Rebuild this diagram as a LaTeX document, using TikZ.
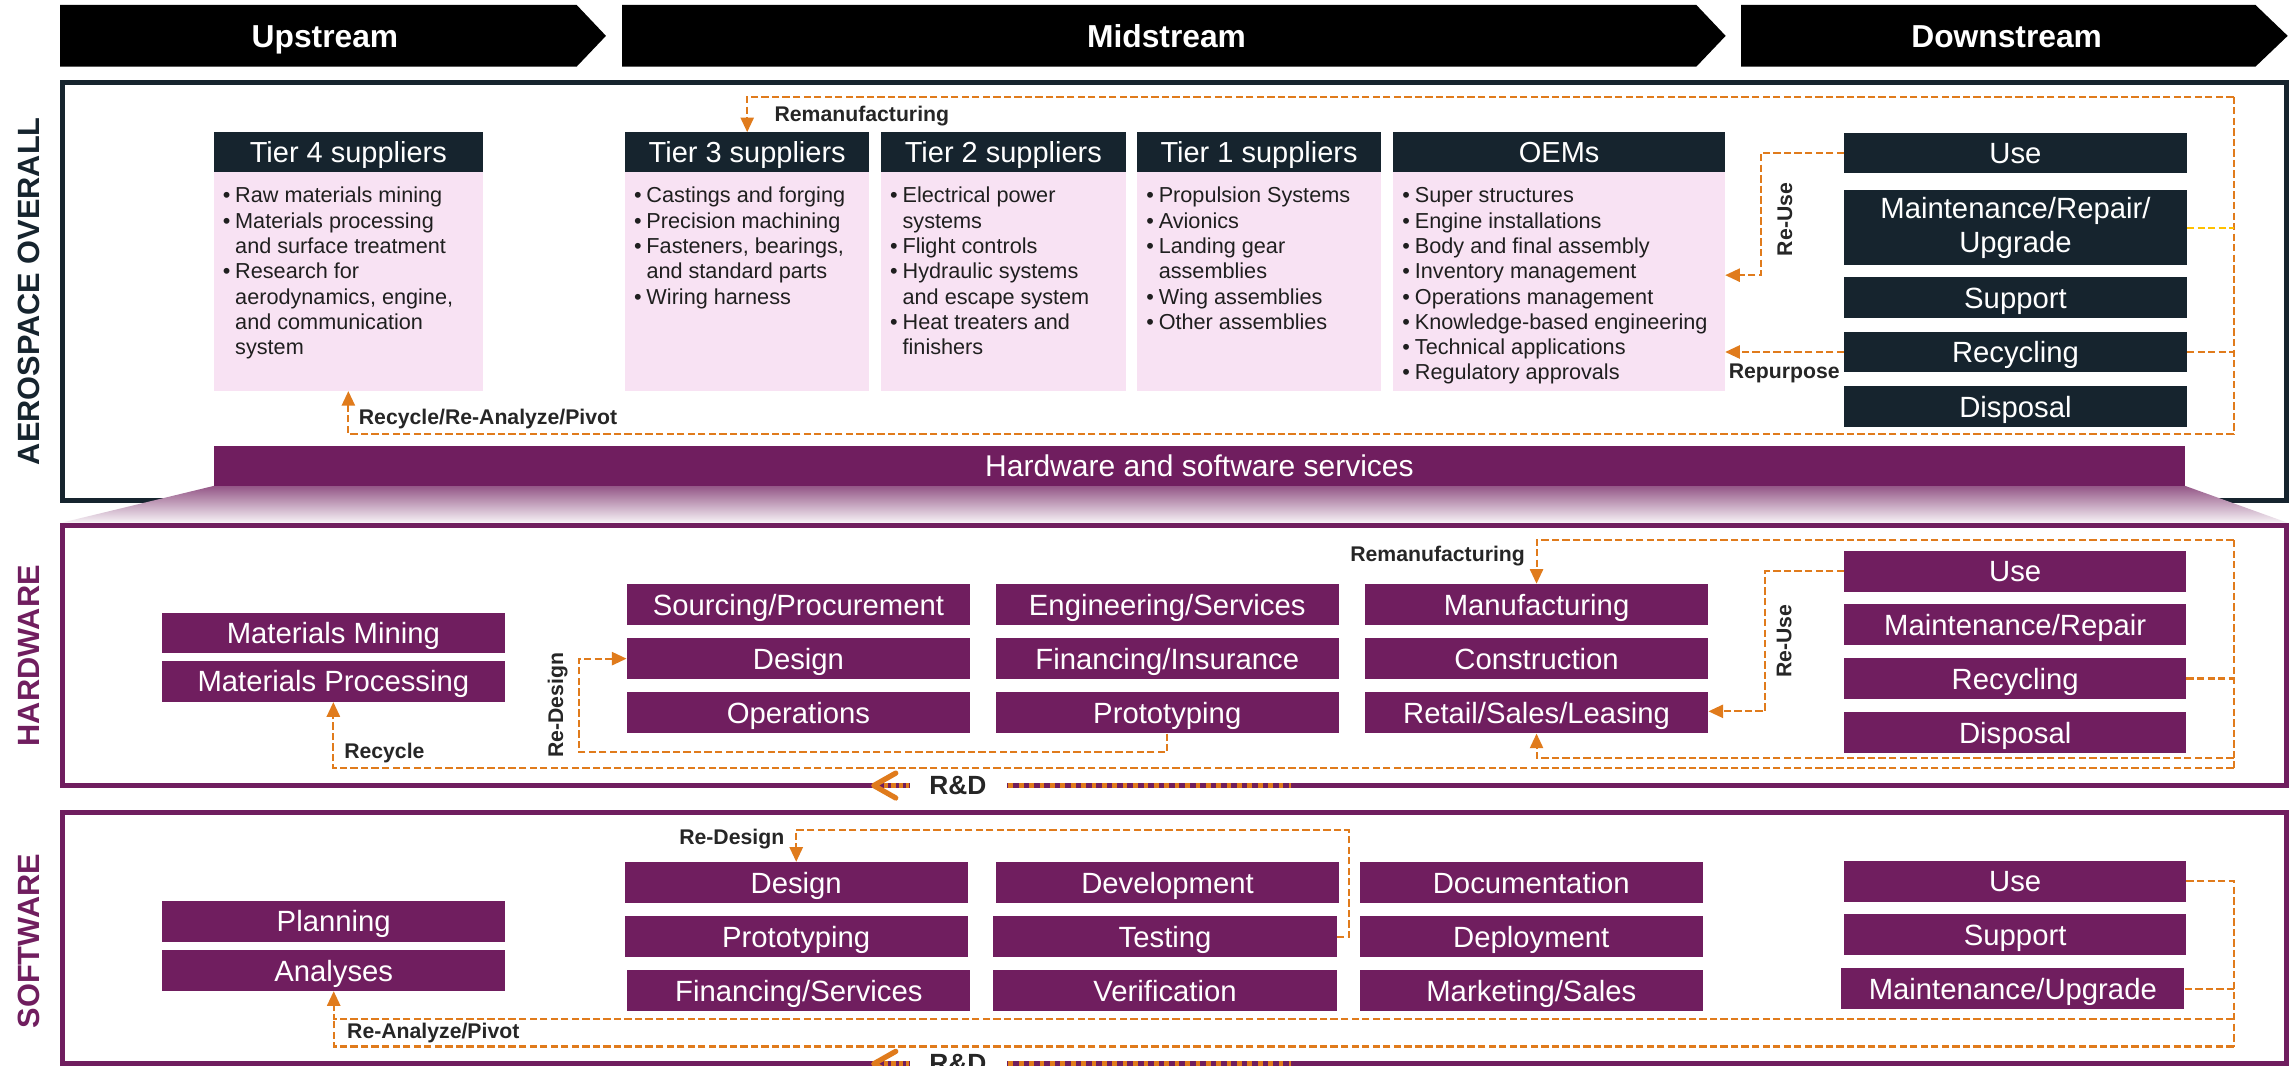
\documentclass[tikz,border=0pt]{standalone}
\usepackage{fontspec}
\setmainfont{Liberation Sans}
\usetikzlibrary{arrows.meta}
\definecolor{navy}{HTML}{16242E}
\definecolor{plum}{HTML}{701E5F}
\definecolor{pinkbg}{HTML}{F8E2F3}
\definecolor{orng}{HTML}{E07B1C}
\definecolor{ylw}{HTML}{FFC000}
\definecolor{lbl}{HTML}{262626}
\newcommand\bul{\makebox[8.5pt][l]{\textbullet}}
\newcommand\ind{\hspace*{8.5pt}}
\newcommand\blist[3]{\foreach \t [count=\i] in {#3}{\node[bt] at (#1,{#2+17.3*(\i-1)}) {\t};}}
\newcommand\rnd[1]{%
  \fill[white] (622,#1-3) rectangle (688,#1+3);
  \draw[orng,line width=3.4pt,dash pattern=on 3.2pt off 3.9pt] (689,#1) -- (882,#1);
  \draw[orng,line width=3.4pt,dash pattern=on 3pt off 2pt] (604,#1) -- (621,#1);
  \draw[orng,line width=3.6pt,line cap=round,line join=round] (612,#1-8.5) -- (597,#1) -- (612,#1+8.5);
  \node[inner sep=0pt,text=lbl,font=\bfseries\fontsize{18}{20}\selectfont] at (654.5,#1) {R\&D};}
\begin{document}
\begin{tikzpicture}[x=1pt,y=-1pt,
  pbox/.style={fill=plum,text=white,inner sep=0pt,minimum height=28pt,minimum width=234.5pt,text height=18.5pt,text depth=4pt,font=\fontsize{20}{23}\selectfont},
  nbox/.style={fill=navy,text=white,inner sep=0pt,minimum width=234pt,font=\fontsize{20}{23}\selectfont},
  nbox1/.style={nbox,text height=18.5pt,text depth=3.5pt},
  hdr/.style={nbox,minimum height=27pt,text height=18.5pt,text depth=4pt,font=\fontsize{19.8}{22}\selectfont},
  pinkbody/.style={fill=pinkbg,inner sep=0pt,minimum height=149.5pt},
  bt/.style={anchor=base west,inner sep=0pt,text=black!88,font=\fontsize{14.8}{17.3}\selectfont},
  lab/.style={inner sep=0pt,text=lbl,font=\bfseries\fontsize{14.5}{16}\selectfont},
  sect/.style={inner sep=0pt,rotate=90,font=\bfseries\fontsize{21}{24}\selectfont},
  stream/.style={inner sep=0pt,anchor=base,text=white,font=\bfseries\fontsize{21.7}{24}\selectfont},
  dl/.style={draw=orng,line width=1.4pt,dash pattern=on 5pt off 2.2pt},
  da/.style={dl,-{Triangle[length=10pt,width=9pt]}}]
\useasboundingbox (0,0) rectangle (1568,728);
\clip (0,0) rectangle (1568,728);
\fill[white] (0,0) rectangle (1568,728);
% stream arrows
\fill[black] (41,3.4) -- (394,3.4) -- (414,24.5) -- (394,45.5) -- (41,45.5) -- cycle;
\fill[black] (425,3.4) -- (1159,3.4) -- (1179,24.5) -- (1159,45.5) -- (425,45.5) -- cycle;
\fill[black] (1189.5,3.4) -- (1541,3.4) -- (1563,24.5) -- (1541,45.5) -- (1189.5,45.5) -- cycle;
\node[stream] (sUp) at (222,32.5) {Upstream};
\node[stream] (sMid) at (797,32.5) {Midstream};
\node[stream] (sDown) at (1371,32.5) {Downstream};
% frames
\draw[navy,line width=3.4pt] (42.7,56.3) rectangle (1562.5,342);
\node[sect,text=navy] (lAero) at (20,199) {AEROSPACE OVERALL};
% aerospace tiers
\node[hdr,minimum width=184pt] (t4h) at (238,104) {Tier 4 suppliers};
\node[pinkbody,minimum width=184pt] (t4b) at (238,192.25) {};
\node[hdr,minimum width=167pt] (t3h) at (510.5,104) {Tier 3 suppliers};
\node[pinkbody,minimum width=167pt] (t3b) at (510.5,192.25) {};
\node[hdr,minimum width=167pt] (t2h) at (685.5,104) {Tier 2 suppliers};
\node[pinkbody,minimum width=167pt] (t2b) at (685.5,192.25) {};
\node[hdr,minimum width=166.5pt] (t1h) at (860.2,104) {Tier 1 suppliers};
\node[pinkbody,minimum width=166.5pt] (t1b) at (860.2,192.25) {};
\node[hdr,minimum width=226.5pt] (oemh) at (1065.25,104) {OEMs};
\node[pinkbody,minimum width=226.5pt] (oemb) at (1065.25,192.25) {};
\blist{152}{138.5}{{\bul Raw materials mining},{\bul Materials processing},{\ind and surface treatment},{\bul Research for},{\ind aerodynamics, engine,},{\ind and communication},{\ind system}}
\blist{433}{138.5}{{\bul Castings and forging},{\bul Precision machining},{\bul Fasteners, bearings,},{\ind and standard parts},{\bul Wiring harness}}
\blist{608}{138.5}{{\bul Electrical power},{\ind systems},{\bul Flight controls},{\bul Hydraulic systems},{\ind and escape system},{\bul Heat treaters and},{\ind finishers}}
\blist{783}{138.5}{{\bul Propulsion Systems},{\bul Avionics},{\bul Landing gear},{\ind assemblies},{\bul Wing assemblies},{\bul Other assemblies}}
\blist{958}{138.5}{{\bul Super structures},{\bul Engine installations},{\bul Body and final assembly},{\bul Inventory management},{\bul Operations management},{\bul Knowledge-based engineering},{\bul Technical applications},{\bul Regulatory approvals}}
% aerospace downstream
\node[nbox1,minimum height=27pt] (aUse) at (1377,104.5) {Use};
\node[nbox,minimum height=51.5pt,align=center] (aMnt) at (1377,155.5) {Maintenance/Repair/\\Upgrade};
\node[nbox1,minimum height=28pt] (aSup) at (1377,203) {Support};
\node[nbox1,minimum height=27pt] (aRec) at (1377,240.5) {Recycling};
\node[nbox1,minimum height=27.5pt] (aDis) at (1377,277.75) {Disposal};
% aerospace connectors
\coordinate (aR) at (1526,66);
\coordinate (aRb) at (1526,296.6);
\coordinate (ru) at (1203,188);
\draw[dl] (aR) -- (aRb);
\draw[da] (aR) -| (t3h.north);
\draw[da] (aRb) -| (t4b.south);
\draw[dl] (aRec.east) -- (aRec.east -| aR);
\draw[dl,draw=ylw] (aMnt.east) -- (aMnt.east -| aR);
\draw[da] (aUse.west) -| (ru) -- (ru -| oemb.east);
\draw[da] (aRec.west) -- (aRec.west -| oemb.east);
\node[lab,anchor=west] (lRem1) at (529,79) {Remanufacturing};
\node[lab,anchor=west] (lRec1) at (245,286) {Recycle/Re-Analyze/Pivot};
\node[lab,rotate=90] (lReu1) at (1219.5,150) {Re-Use};
\node[lab] (lRep) at (1219,255) {Repurpose};
% transition
\shade[top color=plum!75!white,middle color=plum!32!white,bottom color=plum!6!white] (146,332) -- (1493,332) -- (1562.5,357) -- (42.7,357) -- cycle;
\node[pbox,minimum width=1347pt,minimum height=27.3pt,font=\fontsize{20.5}{23}\selectfont] (hss) at (819.5,318.35) {Hardware and software services};
% hardware
\draw[plum,line width=3.4pt] (42.7,359) rectangle (1562.5,536.7);
\node[sect,text=plum] (lHw) at (20,448) {HARDWARE};
\node[pbox,minimum height=27.5pt] (hMM) at (227.75,432.25) {Materials Mining};
\node[pbox] (hMP) at (227.75,465.5) {Materials Processing};
\node[pbox] (hSrc) at (545.5,413) {Sourcing/Procurement};
\node[pbox] (hDes) at (545.5,450) {Design};
\node[pbox] (hOps) at (545.5,487) {Operations};
\node[pbox] (hEng) at (797.5,413) {Engineering/Services};
\node[pbox] (hFin) at (797.5,450) {Financing/Insurance};
\node[pbox] (hPro) at (797.5,487) {Prototyping};
\node[pbox] (hMan) at (1049.8,413) {Manufacturing};
\node[pbox] (hCon) at (1049.8,450) {Construction};
\node[pbox] (hRet) at (1049.8,487) {Retail/Sales/Leasing};
\node[pbox,minimum width=233.6pt] (hUse) at (1376.8,390.35) {Use};
\node[pbox,minimum width=233.6pt] (hMnt) at (1376.8,426.7) {Maintenance/Repair};
\node[pbox,minimum width=233.6pt] (hRec) at (1376.8,463.55) {Recycling};
\node[pbox,minimum width=233.6pt] (hDis) at (1376.8,500.4) {Disposal};
\coordinate (hT) at (1526,369);
\coordinate (hB) at (1526,525);
\coordinate (hM) at (1526,518);
\coordinate (hrd) at (395.5,514);
\coordinate (hru) at (1206,486);
\draw[dl] (hT) -- (hB);
\draw[da] (hT) -| (hMan.north);
\draw[da] (hM) -| (hRet.south);
\draw[da] (hB) -| (hMP.south);
\draw[dl] (hRec.east) -- (hRec.east -| hT);
\draw[da] (hPro.south) |- (hrd) |- (hDes.west);
\draw[da] (hUse.west) -| (hru) -- (hru -| hRet.east);
\node[lab,anchor=east] (lRem2) at (1042,380) {Remanufacturing};
\node[lab,rotate=90] (lReu2) at (1219,438) {Re-Use};
\node[lab,rotate=90] (lRed2) at (381,482) {Re-Design};
\node[lab,anchor=west] (lRec2) at (235,514.5) {Recycle};
\rnd{536.7}
% software
\draw[plum,line width=3.4pt] (42.7,555) rectangle (1562.5,726.8);
\node[sect,text=plum] (lSw) at (20,643) {SOFTWARE};
\node[pbox] (sPl) at (228,629.5) {Planning};
\node[pbox] (sAn) at (228,663) {Analyses};
\node[pbox] (sDes) at (544,603) {Design};
\node[pbox] (sPro) at (544,640) {Prototyping};
\node[pbox] (sFin) at (545.8,677) {Financing/Services};
\node[pbox] (sDev) at (797.7,603) {Development};
\node[pbox] (sTest) at (796,640) {Testing};
\node[pbox] (sVer) at (796,677) {Verification};
\node[pbox] (sDoc) at (1046.2,603) {Documentation};
\node[pbox] (sDep) at (1046.2,640) {Deployment};
\node[pbox] (sMkt) at (1046.2,677) {Marketing/Sales};
\node[pbox,minimum width=233.6pt] (sUse) at (1376.8,602) {Use};
\node[pbox,minimum width=233.6pt] (sSup) at (1376.8,638.5) {Support};
\node[pbox,minimum width=234.5pt] (sMU) at (1375.2,675.5) {Maintenance/Upgrade};
\coordinate (sB) at (1526,715);
\coordinate (sM) at (1526,696);
\coordinate (srd) at (921.6,567);
\draw[dl] (sUse.east) -| (sB);
\draw[dl] (sMU.east) -- (sMU.east -| sB);
\draw[dl] (sB) -| (sM -| sAn.south);
\draw[da] (sM) -| (sAn.south);
\draw[da] (sTest.east) -| (srd) -| (sDes.north);
\node[lab,anchor=east] (lRed3) at (536,573) {Re-Design};
\node[lab,anchor=west] (lRa3) at (237,706) {Re-Analyze/Pivot};
\rnd{726.8}
\end{tikzpicture}
\end{document}
